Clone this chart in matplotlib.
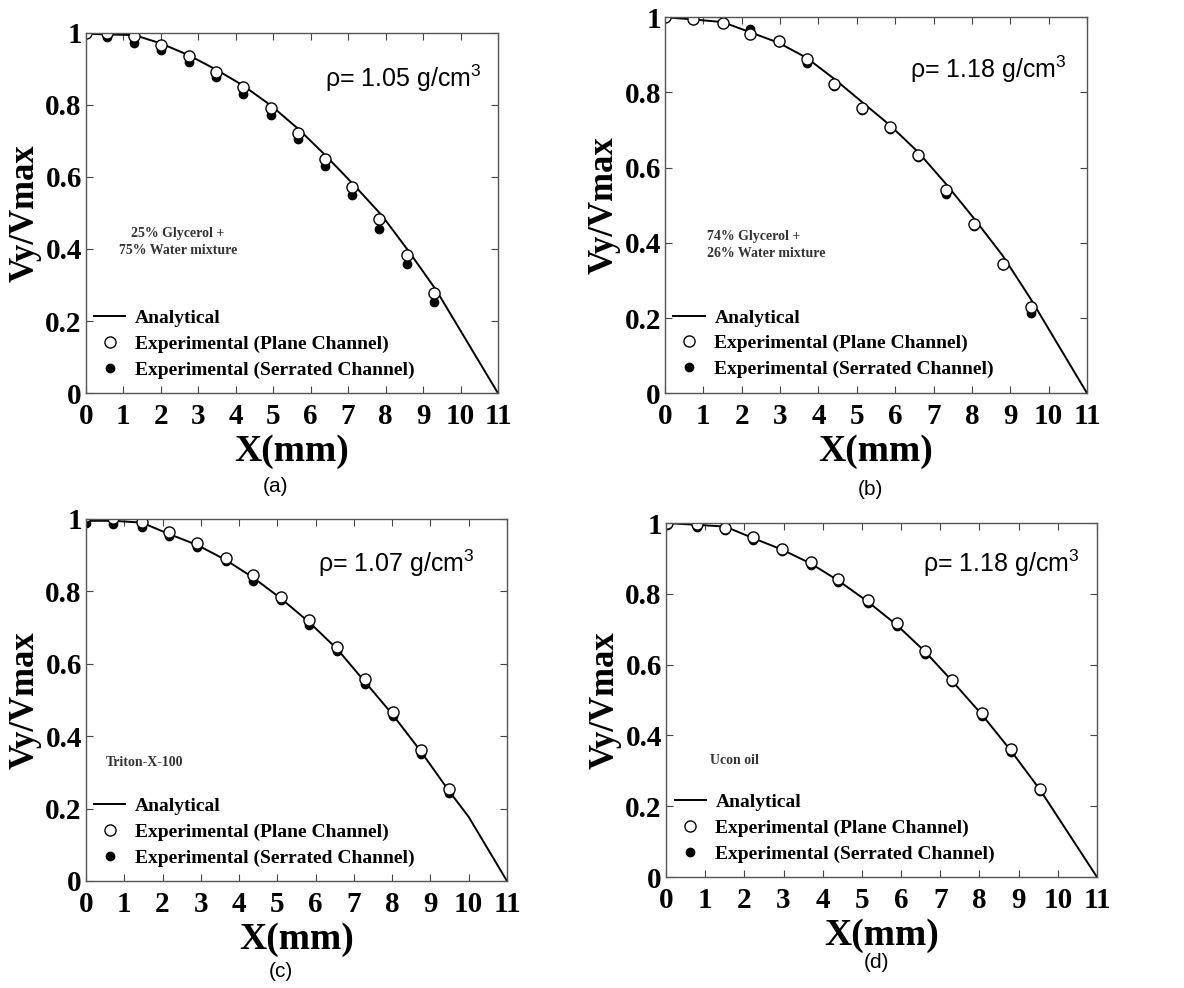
import matplotlib
matplotlib.use("Agg")
import matplotlib.pyplot as plt

plt.rcParams['font.family'] = ['Liberation Serif', 'DejaVu Serif']
plt.rcParams['font.weight'] = 'bold'
plt.rcParams['mathtext.fontset'] = 'custom'
plt.rcParams['mathtext.rm'] = 'Liberation Sans'
plt.rcParams['mathtext.it'] = 'Liberation Sans:italic'
plt.rcParams['mathtext.bf'] = 'Liberation Sans:bold'
plt.rcParams['mathtext.default'] = 'regular'

x_ticks = list(range(0, 12))
y_ticks = [0, 0.2, 0.4, 0.6, 0.8, 1]
y_tick_labels = ['0', '0.2', '0.4', '0.6', '0.8', '1']

# panel (a)
xa = [0, 0.55, 1.28, 2.0, 2.74, 3.47, 4.2, 4.93, 5.65, 6.38, 7.1, 7.83, 8.56, 9.29]
plane_a = [1.0, 1.0, 0.99, 0.966, 0.934, 0.891, 0.848, 0.791, 0.722, 0.649, 0.571, 0.484, 0.384, 0.277]
serr_a = [1.0, 0.988, 0.972, 0.952, 0.919, 0.877, 0.831, 0.772, 0.704, 0.629, 0.549, 0.456, 0.359, 0.253]
line_xa = [0, 0.55, 1.3, 2.0, 2.75, 3.5, 4.2, 4.95, 5.7, 6.4, 7.15, 7.9, 8.6, 9.35, 11]
line_ya = [0.997, 0.995, 0.993, 0.97, 0.937, 0.896, 0.853, 0.797, 0.73, 0.659, 0.578, 0.493, 0.396, 0.286, 0]

# panel (b)
xb = [0, 0.73, 1.5, 2.22, 2.96, 3.69, 4.41, 5.14, 5.87, 6.6, 7.32, 8.06, 8.8, 9.53]
plane_b = [1.0, 0.994, 0.984, 0.956, 0.938, 0.888, 0.823, 0.759, 0.707, 0.634, 0.541, 0.45, 0.344, 0.23]
serr_b = [1.0, 0.994, 0.984, 0.969, 0.934, 0.879, 0.817, 0.754, 0.703, 0.628, 0.53, 0.446, 0.34, 0.213]
line_xb = [0, 0.73, 1.5, 2.22, 2.96, 3.69, 4.41, 5.14, 5.87, 6.6, 7.32, 8.06, 8.8, 9.53, 11]
line_yb = [1.0, 0.994, 0.987, 0.96, 0.932, 0.892, 0.836, 0.774, 0.712, 0.641, 0.557, 0.464, 0.366, 0.251, 0]

# panel (c)
xc = [0, 0.71, 1.46, 2.18, 2.91, 3.65, 4.37, 5.1, 5.83, 6.57, 7.29, 8.01, 8.75, 9.49]
plane_c = [1.007, 1.004, 0.992, 0.963, 0.934, 0.892, 0.845, 0.784, 0.721, 0.646, 0.557, 0.466, 0.363, 0.253]
serr_c = [0.989, 0.987, 0.978, 0.952, 0.922, 0.883, 0.83, 0.775, 0.708, 0.634, 0.544, 0.456, 0.352, 0.242]
line_xc = [0, 0.71, 1.46, 2.18, 2.91, 3.65, 4.37, 5.1, 5.83, 6.57, 7.29, 8.01, 8.75, 9.49, 10.0, 11]
line_yc = [0.995, 0.995, 0.99, 0.958, 0.928, 0.887, 0.838, 0.78, 0.715, 0.64, 0.55, 0.46, 0.358, 0.248, 0.177, 0]

# panel (d)
xd = [0.03, 0.78, 1.51, 2.21, 2.96, 3.69, 4.39, 5.15, 5.89, 6.62, 7.31, 8.07, 8.81, 9.55]
plane_d = [1.0, 0.997, 0.986, 0.96, 0.928, 0.89, 0.842, 0.783, 0.717, 0.639, 0.558, 0.462, 0.361, 0.25]
serr_d = [0.994, 0.99, 0.979, 0.952, 0.92, 0.882, 0.834, 0.775, 0.709, 0.631, 0.55, 0.454, 0.353, 0.242]
line_xd = [0, 0.78, 1.51, 2.21, 2.96, 3.69, 4.39, 5.15, 5.89, 6.62, 7.31, 8.07, 8.81, 9.55, 11]
line_yd = [1.0, 0.995, 0.99, 0.958, 0.925, 0.886, 0.838, 0.778, 0.712, 0.636, 0.553, 0.458, 0.356, 0.246, 0]

densities = ['ρ= 1.05 g/cm$^{3}$', 'ρ= 1.18 g/cm$^{3}$', 'ρ= 1.07 g/cm$^{3}$', 'ρ= 1.18 g/cm$^{3}$']
fluids = ['25% Glycerol +\n75% Water mixture', '74% Glycerol +\n26% Water mixture',
          'Triton-X-100', 'Ucon oil']
captions = ['(a)', '(b)', '(c)', '(d)']
legend_labels = ['Analytical', 'Experimental (Plane Channel)', 'Experimental (Serrated Channel)']

panels = [
    (xa, plane_a, serr_a, line_xa, line_ya),
    (xb, plane_b, serr_b, line_xb, line_yb),
    (xc, plane_c, serr_c, line_xc, line_yc),
    (xd, plane_d, serr_d, line_xd, line_yd),
]

# layout (figure fractions)
axes_rects = [
    [0.0726, 0.602, 0.348, 0.365],
    [0.5617, 0.602, 0.3564, 0.3806],
    [0.0726, 0.1083, 0.3556, 0.3664],
    [0.5625, 0.1123, 0.364, 0.3583],
]
rho_pos = [(0.961, 0.848), (0.952, 0.838), (0.924, 0.854), (0.96, 0.862)]
fluid_pos = [(0.223, 0.42, 'center'), (0.0995, 0.394, 'left'),
             (0.048, 0.326, 'left'), (0.102, 0.328, 'left')]
caption_pos = [(0.233, 0.508), (0.735, 0.505), (0.237, 0.017), (0.74, 0.026)]

fig = plt.figure(figsize=(11.84, 9.88), dpi=100)

for i, (x, plane, serr, lx, ly) in enumerate(panels):
    ax = fig.add_axes(axes_rects[i])
    l1, = ax.plot(lx, ly, color='black', lw=1.4)
    l3, = ax.plot(x, serr, 'o', color='black', markersize=6, linestyle='none')
    l2, = ax.plot(x, plane, 'o', markerfacecolor='white', markeredgecolor='black',
                  markeredgewidth=1.0, markersize=8, linestyle='none')
    ax.set_xlim(0, 11)
    ax.set_ylim(0, 1)
    ax.set_xticks(x_ticks)
    ax.set_yticks(y_ticks)
    ax.set_yticklabels(y_tick_labels)
    ax.tick_params(direction='in', top=True, right=True, length=5, width=0.8,
                   labelsize=21, color='#444444')
    ax.tick_params(axis='x', pad=7)
    ax.tick_params(axis='y', pad=3)
    for lab in ax.get_xticklabels() + ax.get_yticklabels():
        lab.set_fontweight('bold')
    for sp in ax.spines.values():
        sp.set_color('#555555')
        sp.set_linewidth(1.0)
    ax.set_xlabel('X(mm)', fontsize=27, fontweight='bold', labelpad=3)
    ax.set_ylabel('Vy/Vmax', fontsize=25, fontweight='bold', labelpad=3)

    ax.text(rho_pos[i][0], rho_pos[i][1], densities[i], transform=ax.transAxes,
            ha='right', va='baseline', fontsize=18, fontweight='normal',
            family=['Liberation Sans', 'DejaVu Sans'])
    fx, fy, fha = fluid_pos[i]
    ax.text(fx, fy, fluids[i], transform=ax.transAxes, ha=fha, va='center',
            fontsize=10, fontweight='bold', color='#333333', linespacing=1.4,
            multialignment=fha)

    ax.legend([l1, l2, l3], legend_labels, loc='lower left',
              bbox_to_anchor=(0.02, 0.04), frameon=False, borderpad=0,
              borderaxespad=0, handlelength=1.6, handletextpad=0.5,
              labelspacing=0.42, prop={'size': 14, 'weight': 'bold'})

    fig.text(caption_pos[i][0], caption_pos[i][1], captions[i], ha='center',
             va='center', fontsize=15, family=['Liberation Sans', 'DejaVu Sans'],
             fontweight='normal')

fig.savefig('out.png', dpi=100)
